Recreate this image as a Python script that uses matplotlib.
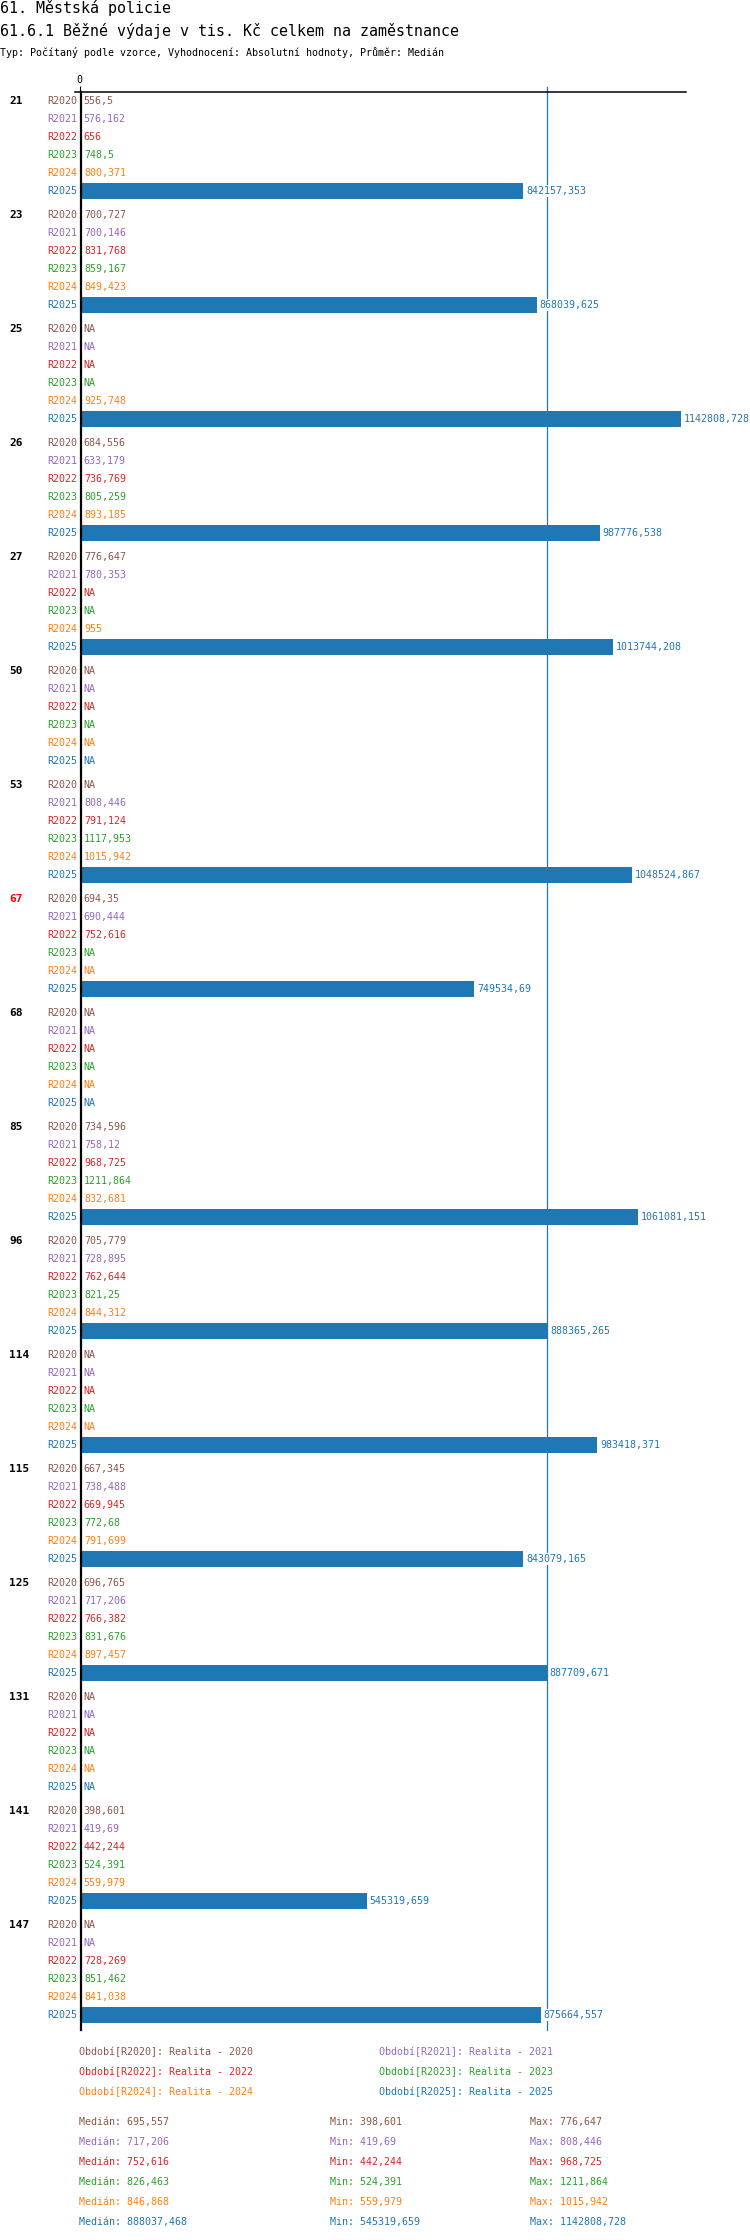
import matplotlib
matplotlib.use("Agg")
import matplotlib.pyplot as plt
from matplotlib.lines import Line2D

plt.rcParams['font.family'] = ['DejaVu Sans Mono', 'DejaVu Sans']

# --- data ---
groups = ["21", "23", "25", "26", "27", "50", "53", "67", "68", "85",
          "96", "114", "115", "125", "131", "141", "147"]
highlight = "67"
periods = ["R2020", "R2021", "R2022", "R2023", "R2024", "R2025"]
period_names = ["Realita - 2020", "Realita - 2021", "Realita - 2022",
                "Realita - 2023", "Realita - 2024", "Realita - 2025"]
colors = ["#8c564b", "#9467bd", "#d62728", "#2ca02c", "#ff7f0e", "#1f77b4"]

NA = None
r2020 = [556.5, 700.727, NA, 684.556, 776.647, NA, NA, 694.35, NA, 734.596,
         705.779, NA, 667.345, 696.765, NA, 398.601, NA]
r2021 = [576.162, 700.146, NA, 633.179, 780.353, NA, 808.446, 690.444, NA, 758.12,
         728.895, NA, 738.488, 717.206, NA, 419.69, NA]
r2022 = [656, 831.768, NA, 736.769, NA, NA, 791.124, 752.616, NA, 968.725,
         762.644, NA, 669.945, 766.382, NA, 442.244, 728.269]
r2023 = [748.5, 859.167, NA, 805.259, NA, NA, 1117.953, NA, NA, 1211.864,
         821.25, NA, 772.68, 831.676, NA, 524.391, 851.462]
r2024 = [800.371, 849.423, 925.748, 893.185, 955, NA, 1015.942, NA, NA, 832.681,
         844.312, NA, 791.699, 897.457, NA, 559.979, 841.038]
r2025 = [842157.353, 868039.625, 1142808.728, 987776.538, 1013744.208, NA,
         1048524.867, 749534.69, NA, 1061081.151, 888365.265, 983418.371,
         843079.165, 887709.671, NA, 545319.659, 875664.557]
series = [r2020, r2021, r2022, r2023, r2024, r2025]

medians = [695.557, 717.206, 752.616, 826.463, 846.868, 888037.468]
mins = [398.601, 419.69, 442.244, 524.391, 559.979, 545319.659]
maxs = [776.647, 808.446, 968.725, 1211.864, 1015.942, 1142808.728]


def fmt(v):
    if v is None:
        return "NA"
    s = f"{v:.3f}".rstrip("0").rstrip(".")
    return s.replace(".", ",")


W, H = 750, 2240
fig = plt.figure(figsize=(W / 100, H / 100), dpi=100)

ax_left, ax_right = 79.5, 686
ax_top, ax_bot = 92, 2030
ax = fig.add_axes([ax_left / W, 1 - ax_bot / H,
                   (ax_right - ax_left) / W, (ax_bot - ax_top) / H])

step = 114 / 18  # group pitch in row units
fs = 7.2

for g, name in enumerate(groups):
    for r, vals in enumerate(series):
        y = g * step + r
        v = vals[g]
        if v is not None:
            ax.barh(y, v, height=16 / 18, color=colors[r], zorder=2)
        ax.annotate(fmt(v), xy=(v if v is not None else 0, y),
                    xytext=(3 if v is not None and v > 1e5 else 4, 0),
                    textcoords="offset pixels", va="center", ha="left",
                    fontsize=fs, color=colors[r], zorder=6,
                    annotation_clip=False,
                    bbox=dict(facecolor="white", edgecolor="none", pad=0.6))
        ax.annotate(periods[r], xy=(0, y), xytext=(-2.5, 0),
                    textcoords="offset pixels", va="center", ha="right",
                    fontsize=fs, color=colors[r], annotation_clip=False)
    ax.annotate(name, xy=(0, g * step), xytext=(-70, 0),
                textcoords="offset pixels", va="center", ha="left",
                fontsize=8, fontweight="bold",
                color="red" if name == highlight else "black",
                annotation_clip=False)

ax.set_xlim(0, 1152000)
ax.set_ylim((len(groups) - 1) * step + 5 + 15 / 18, -0.5)

ax.axvline(medians[-1], ymin=0, ymax=1 + 5 / (ax_bot - ax_top),
           color=colors[-1], lw=0.9, clip_on=False, zorder=4)

for s in ax.spines.values():
    s.set_visible(False)
ax.set_yticks([])
ax.set_xticks([0])
ax.set_xticklabels(["0"])
ax.xaxis.tick_top()
ax.tick_params(axis="x", length=4.3, width=0.8, pad=1, labelsize=fs)

# axis lines: vertical black at x=81, horizontal top from 75 to 686
fig.add_artist(Line2D([81 / W, 81 / W], [1 - ax_top / H, 1 - ax_bot / H],
                      color="black", lw=1.6, zorder=5))
fig.add_artist(Line2D([75 / W, ax_right / W], [1 - ax_top / H, 1 - ax_top / H],
                      color="black", lw=1.1))

# titles
fig.text(0, 1 - 8 / H, "61. Městská policie", fontsize=10.8, va="center")
fig.text(0, 1 - 31 / H, "61.6.1 Běžné výdaje v tis. Kč celkem na zaměstnance",
         fontsize=10.8, va="center")
fig.text(0, 1 - 52 / H,
         "Typ: Počítaný podle vzorce, Vyhodnocení: Absolutní hodnoty, Průměr: Medián",
         fontsize=7.2, va="center")

# legend
for i, (p, n) in enumerate(zip(periods, period_names)):
    x = 79 if i % 2 == 0 else 379
    y = 2052 + (i // 2) * 20
    fig.text(x / W, 1 - y / H, f"Období[{p}]: {n}", fontsize=fs,
             color=colors[i], va="center")

# stats
for i in range(len(periods)):
    y = 1 - (2122 + i * 20) / H
    fig.text(79 / W, y, f"Medián: {fmt(medians[i])}", fontsize=fs, color=colors[i], va="center")
    fig.text(330 / W, y, f"Min: {fmt(mins[i])}", fontsize=fs, color=colors[i], va="center")
    fig.text(530 / W, y, f"Max: {fmt(maxs[i])}", fontsize=fs, color=colors[i], va="center")

fig.savefig("out.png", dpi=100)
